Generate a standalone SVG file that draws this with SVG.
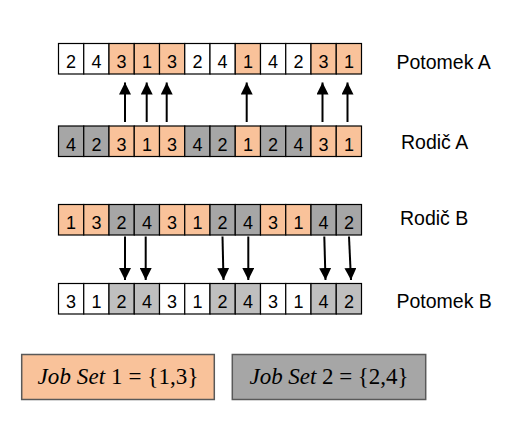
<svg xmlns="http://www.w3.org/2000/svg" width="521" height="426" viewBox="0 0 521 426">
<defs>
<style>
.c rect{stroke:#000;stroke-width:1.2}
.w{fill:#fff}
.o{fill:#f9c29a}
.g{fill:#a6a6a6}
.l{fill:#bfbfbf}
.d{font-family:"Liberation Sans",Arial,sans-serif;font-size:18px;fill:#000;text-anchor:middle}
.lab{font-family:"Liberation Sans",Arial,sans-serif;font-size:19.5px;fill:#000;text-anchor:start}
.ar line{stroke:#000;stroke-width:2}
.js rect{stroke:#595959;stroke-width:1.5}
.js text{font-family:"Liberation Serif","Times New Roman",serif;font-size:23px;fill:#000;text-anchor:middle}
</style>
<marker id="ah" viewBox="0 0 13 12" refX="12" refY="6" markerWidth="13" markerHeight="12" markerUnits="userSpaceOnUse" orient="auto">
<path d="M0,0 L12,6 L0,12 z" fill="#000"/>
</marker>
</defs>
<rect width="521" height="426" fill="#fff"/>

<g id="potomekA" class="c">
<rect class="w" x="58.5" y="43.5" width="25.25" height="30.5"/>
<rect class="w" x="83.75" y="43.5" width="25.25" height="30.5"/>
<rect class="o" x="109" y="43.5" width="25.25" height="30.5"/>
<rect class="o" x="134.25" y="43.5" width="25.25" height="30.5"/>
<rect class="o" x="159.5" y="43.5" width="25.25" height="30.5"/>
<rect class="w" x="184.75" y="43.5" width="25.25" height="30.5"/>
<rect class="w" x="210" y="43.5" width="25.25" height="30.5"/>
<rect class="o" x="235.25" y="43.5" width="25.25" height="30.5"/>
<rect class="w" x="260.5" y="43.5" width="25.25" height="30.5"/>
<rect class="w" x="285.75" y="43.5" width="25.25" height="30.5"/>
<rect class="o" x="311" y="43.5" width="25.25" height="30.5"/>
<rect class="o" x="336.25" y="43.5" width="25.25" height="30.5"/>
<g class="d"><text x="71.1" y="68.4">2</text><text x="96.4" y="68.4">4</text><text x="121.6" y="68.4">3</text><text x="146.9" y="68.4">1</text><text x="172.1" y="68.4">3</text><text x="197.4" y="68.4">2</text><text x="222.6" y="68.4">4</text><text x="247.9" y="68.4">1</text><text x="273.1" y="68.4">4</text><text x="298.4" y="68.4">2</text><text x="323.6" y="68.4">3</text><text x="348.9" y="68.4">1</text></g>
<text class="lab" x="396.5" y="69.3">Potomek A</text>
</g>

<g id="rodicA" class="c">
<rect class="g" x="58.5" y="126" width="25.25" height="30.5"/>
<rect class="g" x="83.75" y="126" width="25.25" height="30.5"/>
<rect class="o" x="109" y="126" width="25.25" height="30.5"/>
<rect class="o" x="134.25" y="126" width="25.25" height="30.5"/>
<rect class="o" x="159.5" y="126" width="25.25" height="30.5"/>
<rect class="g" x="184.75" y="126" width="25.25" height="30.5"/>
<rect class="g" x="210" y="126" width="25.25" height="30.5"/>
<rect class="o" x="235.25" y="126" width="25.25" height="30.5"/>
<rect class="g" x="260.5" y="126" width="25.25" height="30.5"/>
<rect class="g" x="285.75" y="126" width="25.25" height="30.5"/>
<rect class="o" x="311" y="126" width="25.25" height="30.5"/>
<rect class="o" x="336.25" y="126" width="25.25" height="30.5"/>
<g class="d"><text x="71.1" y="150.9">4</text><text x="96.4" y="150.9">2</text><text x="121.6" y="150.9">3</text><text x="146.9" y="150.9">1</text><text x="172.1" y="150.9">3</text><text x="197.4" y="150.9">4</text><text x="222.6" y="150.9">2</text><text x="247.9" y="150.9">1</text><text x="273.1" y="150.9">2</text><text x="298.4" y="150.9">4</text><text x="323.6" y="150.9">3</text><text x="348.9" y="150.9">1</text></g>
<text class="lab" x="401" y="149.3">Rodič A</text>
</g>

<g id="rodicB" class="c">
<rect class="o" x="58.5" y="204.5" width="25.25" height="30.5"/>
<rect class="o" x="83.75" y="204.5" width="25.25" height="30.5"/>
<rect class="g" x="109" y="204.5" width="25.25" height="30.5"/>
<rect class="g" x="134.25" y="204.5" width="25.25" height="30.5"/>
<rect class="o" x="159.5" y="204.5" width="25.25" height="30.5"/>
<rect class="o" x="184.75" y="204.5" width="25.25" height="30.5"/>
<rect class="g" x="210" y="204.5" width="25.25" height="30.5"/>
<rect class="g" x="235.25" y="204.5" width="25.25" height="30.5"/>
<rect class="o" x="260.5" y="204.5" width="25.25" height="30.5"/>
<rect class="o" x="285.75" y="204.5" width="25.25" height="30.5"/>
<rect class="g" x="311" y="204.5" width="25.25" height="30.5"/>
<rect class="g" x="336.25" y="204.5" width="25.25" height="30.5"/>
<g class="d"><text x="71.1" y="229.4">1</text><text x="96.4" y="229.4">3</text><text x="121.6" y="229.4">2</text><text x="146.9" y="229.4">4</text><text x="172.1" y="229.4">3</text><text x="197.4" y="229.4">1</text><text x="222.6" y="229.4">2</text><text x="247.9" y="229.4">4</text><text x="273.1" y="229.4">3</text><text x="298.4" y="229.4">1</text><text x="323.6" y="229.4">4</text><text x="348.9" y="229.4">2</text></g>
<text class="lab" x="400" y="225">Rodič B</text>
</g>

<g id="potomekB" class="c">
<rect class="w" x="58.5" y="283.5" width="25.25" height="30.5"/>
<rect class="w" x="83.75" y="283.5" width="25.25" height="30.5"/>
<rect class="l" x="109" y="283.5" width="25.25" height="30.5"/>
<rect class="l" x="134.25" y="283.5" width="25.25" height="30.5"/>
<rect class="w" x="159.5" y="283.5" width="25.25" height="30.5"/>
<rect class="w" x="184.75" y="283.5" width="25.25" height="30.5"/>
<rect class="l" x="210" y="283.5" width="25.25" height="30.5"/>
<rect class="l" x="235.25" y="283.5" width="25.25" height="30.5"/>
<rect class="w" x="260.5" y="283.5" width="25.25" height="30.5"/>
<rect class="w" x="285.75" y="283.5" width="25.25" height="30.5"/>
<rect class="l" x="311" y="283.5" width="25.25" height="30.5"/>
<rect class="l" x="336.25" y="283.5" width="25.25" height="30.5"/>
<g class="d"><text x="71.1" y="308.4">3</text><text x="96.4" y="308.4">1</text><text x="121.6" y="308.4">2</text><text x="146.9" y="308.4">4</text><text x="172.1" y="308.4">3</text><text x="197.4" y="308.4">1</text><text x="222.6" y="308.4">2</text><text x="247.9" y="308.4">4</text><text x="273.1" y="308.4">3</text><text x="298.4" y="308.4">1</text><text x="323.6" y="308.4">4</text><text x="348.9" y="308.4">2</text></g>
<text class="lab" x="396.5" y="308.3">Potomek B</text>
</g>

<g id="connectors" class="ar">
<line x1="125" y1="122" x2="125" y2="82.5" marker-end="url(#ah)"/>
<line x1="146.7" y1="122" x2="146.7" y2="82.5" marker-end="url(#ah)"/>
<line x1="166.7" y1="122" x2="166.7" y2="82.5" marker-end="url(#ah)"/>
<line x1="246.7" y1="122" x2="246.7" y2="82.5" marker-end="url(#ah)"/>
<line x1="322.5" y1="122" x2="322.5" y2="82.5" marker-end="url(#ah)"/>
<line x1="347.5" y1="122" x2="347.5" y2="82.5" marker-end="url(#ah)"/>
<line x1="125" y1="236.5" x2="125" y2="280" marker-end="url(#ah)"/>
<line x1="145.7" y1="236.5" x2="145.7" y2="280" marker-end="url(#ah)"/>
<line x1="222.5" y1="236.5" x2="223.5" y2="280" marker-end="url(#ah)"/>
<line x1="248.3" y1="236.5" x2="248.3" y2="280" marker-end="url(#ah)"/>
<line x1="324.3" y1="236.5" x2="325.5" y2="280" marker-end="url(#ah)"/>
<line x1="349" y1="236.5" x2="351" y2="280" marker-end="url(#ah)"/>
</g>

<g id="jobset1" class="js">
<rect x="21.7" y="354.5" width="192.6" height="45" fill="#f9c29a"/>
<text x="118" y="384" textLength="161" lengthAdjust="spacing"><tspan font-style="italic">Job Set</tspan> 1 = {1,3}</text>
</g>

<g id="jobset2" class="js">
<rect x="232.3" y="354.5" width="193.4" height="45" fill="#a6a6a6"/>
<text x="329" y="384" textLength="159" lengthAdjust="spacing"><tspan font-style="italic">Job Set</tspan> 2 = {2,4}</text>
</g>
</svg>
